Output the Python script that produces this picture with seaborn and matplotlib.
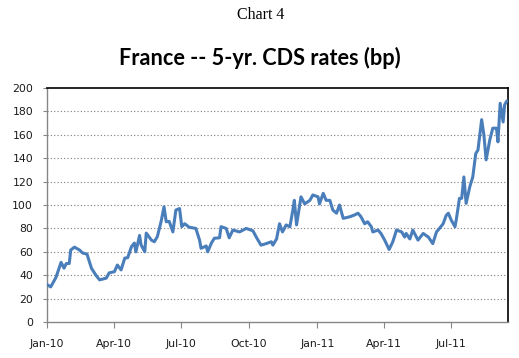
import pandas as pd
import numpy as np
import matplotlib
matplotlib.use("Agg")
import matplotlib.pyplot as plt
import matplotlib.dates as mdates
import seaborn as sns

dates = [
    "2010-01-01", "2010-01-06", "2010-01-13", "2010-01-20", "2010-01-24", "2010-01-27",
    "2010-01-31", "2010-02-02", "2010-02-07", "2010-02-14", "2010-02-18", "2010-02-24",
    "2010-03-02", "2010-03-08", "2010-03-13", "2010-03-22", "2010-03-26", "2010-04-02",
    "2010-04-06", "2010-04-11", "2010-04-16", "2010-04-20", "2010-04-25", "2010-04-29",
    "2010-05-01", "2010-05-06", "2010-05-08", "2010-05-13", "2010-05-15", "2010-05-22",
    "2010-05-26", "2010-05-30", "2010-06-04", "2010-06-08", "2010-06-11", "2010-06-15",
    "2010-06-20", "2010-06-24", "2010-06-29", "2010-07-02", "2010-07-06", "2010-07-12",
    "2010-07-21", "2010-07-26", "2010-07-28", "2010-08-04", "2010-08-06", "2010-08-11",
    "2010-08-15", "2010-08-22", "2010-08-24", "2010-08-31", "2010-09-04", "2010-09-09",
    "2010-09-18", "2010-09-27", "2010-10-06", "2010-10-12", "2010-10-17", "2010-10-24",
    "2010-10-31", "2010-11-02", "2010-11-07", "2010-11-11", "2010-11-15", "2010-11-20",
    "2010-11-25", "2010-11-29", "2010-12-01", "2010-12-04", "2010-12-10", "2010-12-15",
    "2010-12-22", "2010-12-26", "2011-01-02", "2011-01-04", "2011-01-09", "2011-01-13",
    "2011-01-18", "2011-01-22", "2011-01-27", "2011-01-31", "2011-02-05", "2011-02-14",
    "2011-02-20", "2011-02-25", "2011-03-01", "2011-03-06", "2011-03-10", "2011-03-15",
    "2011-03-17", "2011-03-24", "2011-03-28", "2011-04-02", "2011-04-08", "2011-04-13",
    "2011-04-18", "2011-04-25", "2011-04-29", "2011-05-01", "2011-05-06", "2011-05-10",
    "2011-05-17", "2011-05-24", "2011-05-31", "2011-06-06", "2011-06-11", "2011-06-15",
    "2011-06-20", "2011-06-24", "2011-06-27", "2011-07-01", "2011-07-06", "2011-07-08",
    "2011-07-12", "2011-07-15", "2011-07-18", "2011-07-21", "2011-07-26", "2011-07-30",
    "2011-08-03", "2011-08-06", "2011-08-11", "2011-08-14", "2011-08-17", "2011-08-22",
    "2011-08-26", "2011-08-31", "2011-09-02", "2011-09-05", "2011-09-09", "2011-09-11",
    "2011-09-14",
]
cds_bp = [
    32, 30, 38, 51, 46, 50,
    50, 61.5, 64, 61.5, 59, 58,
    46, 40, 36, 37.5, 42, 43,
    48.7, 44.5, 54.6, 55, 64.4, 67.5,
    60, 74, 66, 60, 76, 70,
    68.6, 73, 85.7, 98.5, 85.7, 86,
    77, 95.7, 97, 81.5, 84, 81,
    80, 70, 63, 65, 60, 67.5,
    71.6, 72, 81.5, 80, 72, 78.6,
    77, 80, 78, 71, 65.7, 67,
    68.6, 65.7, 71, 84, 77, 83,
    81.4, 95.7, 104, 83, 107, 101,
    104, 108.6, 107, 101, 110, 104,
    104, 95.7, 93, 100, 88.6, 90,
    91.4, 93, 90, 84, 85.7, 81.4,
    77, 78.6, 75.7, 70, 62, 68.6,
    78.6, 77, 72.6, 75.7, 71, 78.6,
    70, 75.7, 72.6, 67, 77, 80,
    84, 91, 93, 87, 81.4, 88.6,
    105.7, 105.7, 124, 101.4, 115.7, 124,
    144, 147, 173, 160, 138.6, 155.7,
    165.7, 165.7, 154, 187, 171, 185.7,
    189,
]
tick_dates = ["2010-01-01", "2010-04-01", "2010-07-01", "2010-10-01",
              "2011-01-01", "2011-04-01", "2011-07-01"]
tick_labels = ["Jan-10", "Apr-10", "Jul-10", "Oct-10", "Jan-11", "Apr-11", "Jul-11"]
y_ticks = [0, 20, 40, 60, 80, 100, 120, 140, 160, 180, 200]

sns.set_theme(style="white")
plt.rcParams["font.family"] = ["DejaVu Sans"]

df = pd.DataFrame({"date": pd.to_datetime(dates), "cds": cds_bp})

fig = plt.figure(figsize=(5.19, 3.58), dpi=100)
ax = fig.add_axes([0.0906, 0.1006, 0.978 - 0.0906, 0.754 - 0.1006])

sns.lineplot(data=df, x="date", y="cds", ax=ax, color="#4A7EBB",
             linewidth=2.2, estimator=None, zorder=3)

ax.set_xlim(pd.Timestamp("2010-01-01"), pd.Timestamp("2011-09-15"))
ax.set_ylim(0, 200)
ax.set_yticks(y_ticks)
ax.set_yticklabels([str(v) for v in y_ticks])
ax.set_xticks(pd.to_datetime(tick_dates))
ax.set_xticklabels(tick_labels)
ax.set_xlabel("")
ax.set_ylabel("")

for v in y_ticks[1:-1]:
    ax.axhline(v, color="#7a7a7a", linewidth=0.8, linestyle=(0, (1, 2)), zorder=1)

for side in ["left", "bottom"]:
    ax.spines[side].set_color("#868686")
    ax.spines[side].set_linewidth(1.0)
for side in ["top", "right"]:
    ax.spines[side].set_color("black")
    ax.spines[side].set_linewidth(1.2)
    ax.spines[side].set_visible(True)

ax.tick_params(axis="y", which="major", direction="out", length=3, width=0.8,
               color="#868686", pad=7, labelsize=7.8, labelcolor="#1a1a1a", left=True)
ax.tick_params(axis="x", which="major", direction="out", length=4, width=0.8,
               color="#868686", pad=8.5, labelsize=7.8, labelcolor="#1a1a1a", bottom=True)

fig.text(0.503, 1 - 15 / 358, "Chart 4", ha="center", va="center",
         fontsize=11.5, family=["Liberation Serif"], color="black")
fig.text(0.501, 1 - 58 / 358, "France -- 5-yr. CDS rates (bp)", ha="center",
         va="center", fontsize=15.6, fontweight="bold", family=["Lato", "DejaVu Sans"],
         color="black")

fig.savefig("out.png", dpi=100)
